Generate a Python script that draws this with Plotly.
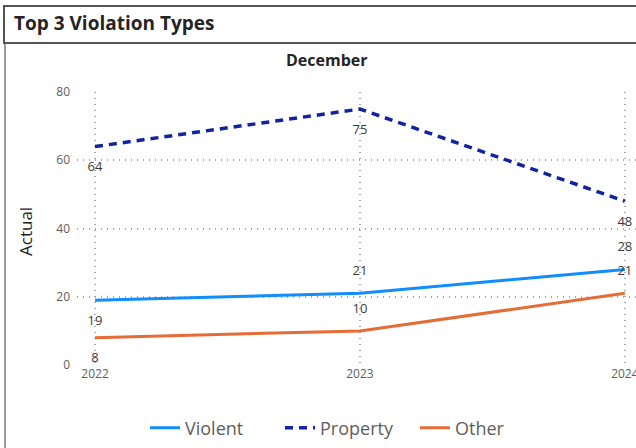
import plotly.graph_objects as go

years = ["2022", "2023", "2024"]
violent = [19, 21, 28]
property_ = [64, 75, 48]
other = [8, 10, 21]
violent_pos = ["bottom center", "top center", "top center"]
property_pos = ["bottom center", "bottom center", "bottom center"]
other_pos = ["bottom center", "top center", "top center"]
y_ticks = [0, 20, 40, 60, 80]

W, H = 636, 448
ML, MR, MT, MB = 77, 0, 92, 83

fig = go.Figure()
lab_font = dict(family="Open Sans, DejaVu Sans, sans-serif", size=13, color="#3b3a39")
hidden_marker = dict(size=22, color="rgba(0,0,0,0)", line=dict(width=0, color="rgba(0,0,0,0)"))

fig.add_trace(go.Scatter(x=years, y=violent, name="Violent", mode="lines+markers+text",
                         text=[str(v) for v in violent], textposition=violent_pos,
                         marker=hidden_marker,
                         textfont=lab_font, line=dict(color="#118DFF", width=3)))
fig.add_trace(go.Scatter(x=years, y=property_, name="Property", mode="lines+markers+text",
                         text=[str(v) for v in property_], textposition=property_pos,
                         marker=hidden_marker,
                         textfont=lab_font, line=dict(color="#12239E", width=3.5, dash="8px,6px")))
fig.add_trace(go.Scatter(x=years, y=other, name="Other", mode="lines+markers+text",
                         text=[str(v) for v in other], textposition=other_pos,
                         marker=hidden_marker,
                         textfont=lab_font, line=dict(color="#E66C37", width=3)))

fig.update_traces(cliponaxis=False)

grid = dict(showgrid=True, gridcolor="#a6a6a6", griddash="1px,5px", gridwidth=1.5)

fig.update_layout(
    width=W, height=H,
    margin=dict(l=ML, r=MR, t=MT, b=MB, autoexpand=False),
    paper_bgcolor="white", plot_bgcolor="white",
    font=dict(family="Open Sans, DejaVu Sans, sans-serif", color="#605E5C"),
    showlegend=True,
    legend=dict(orientation="h", xref="container", yref="container",
                x=145 / W, y=1 - 428 / H, xanchor="left", yanchor="middle",
                font=dict(size=18, color="#605E5C"),
                entrywidth=90, entrywidthmode="pixels",
                bgcolor="rgba(0,0,0,0)"),
    xaxis=dict(type="category", range=[-0.068, 2.042], automargin=False,
               showline=False, zeroline=False, ticks="",
               tickfont=dict(size=12, color="#605E5C"), **grid),
    yaxis=dict(range=[0, 80], tickvals=y_ticks, automargin=False,
               zeroline=False, showline=False, ticks="",
               ticklabelstandoff=6,
               tickfont=dict(size=12, color="#605E5C"), **grid),
)

# title box and left border
pw = W - ML - MR
def px(x):
    return (x - ML) / pw
ph = H - MT - MB
def py(y):
    return (H - MB - y) / ph

fig.add_shape(type="rect", xref="paper", yref="paper",
              x0=px(4), x1=px(640), y0=py(43), y1=py(6),
              line=dict(color="#555555", width=2), fillcolor="rgba(0,0,0,0)")
fig.add_shape(type="line", xref="paper", yref="paper",
              x0=px(5), x1=px(5), y0=py(44), y1=py(450),
              line=dict(color="#9a9a9a", width=2))

fig.add_annotation(text="<b>Top 3 Violation Types</b>", xref="paper", yref="paper",
                   x=px(12), y=py(23), xanchor="left", yanchor="middle", showarrow=False,
                   font=dict(size=19, color="#252423", family="Open Sans, DejaVu Sans, sans-serif"))
fig.add_annotation(text="<b>December</b>", xref="paper", yref="paper",
                   x=px(327), y=py(60), xanchor="center", yanchor="middle", showarrow=False,
                   font=dict(size=16, color="#252423", family="Open Sans, DejaVu Sans, sans-serif"))
fig.add_annotation(text="Actual", xref="paper", yref="paper", textangle=-90,
                   x=px(25), y=py(232), xanchor="center", yanchor="middle", showarrow=False,
                   font=dict(size=17, color="#252423", family="Open Sans, DejaVu Sans, sans-serif"))

fig.write_html("out.html", config={"displayModeBar": False},
               post_script="document.body.style.margin='0';document.body.style.overflow='hidden';")
